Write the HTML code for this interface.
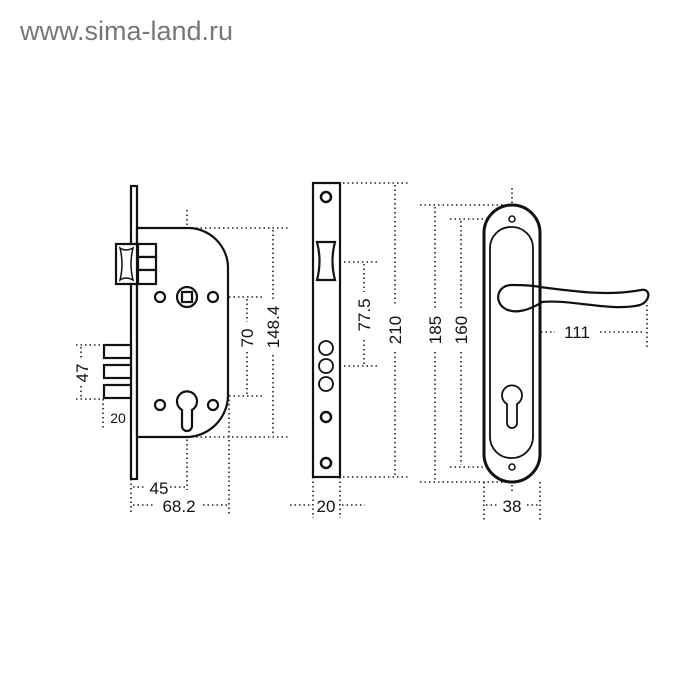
<!DOCTYPE html>
<html><head><meta charset="utf-8"><style>
html,body{margin:0;padding:0;background:#fff;}
svg{display:block;}
.d{stroke:#222;stroke-width:1.6;stroke-dasharray:1.5 3;fill:none;}
.s{stroke:#111;stroke-width:2.2;fill:#fff;}
.t{font-family:"Liberation Sans",sans-serif;font-size:17px;fill:#111;}
</style></head><body>
<svg width="700" height="700" viewBox="0 0 700 700" xmlns="http://www.w3.org/2000/svg">
<rect width="700" height="700" fill="#fff"/>
<text x="20" y="40" font-family="Liberation Sans, sans-serif" font-size="27" fill="#777">www.sima-land.ru</text>

<!-- LOCK BODY -->
<g>
<line class="d" x1="187" y1="210" x2="187" y2="490"/>
<line class="d" x1="229" y1="395" x2="229" y2="515"/>
<line class="d" x1="187" y1="228" x2="290" y2="228"/>
<line class="d" x1="187" y1="437" x2="290" y2="437"/>
<line class="d" x1="148" y1="297" x2="262" y2="297"/>
<line class="d" x1="148" y1="396" x2="262" y2="396"/>
<line class="d" x1="273" y1="230" x2="273" y2="300"/>
<line class="d" x1="273" y1="355" x2="273" y2="435"/>
<line class="d" x1="247" y1="299" x2="247" y2="322"/>
<line class="d" x1="247" y1="352" x2="247" y2="394"/>
<line class="d" x1="76" y1="345" x2="103" y2="345"/>
<line class="d" x1="76" y1="399" x2="103" y2="399"/>
<line class="d" x1="81" y1="347" x2="81" y2="360"/>
<line class="d" x1="81" y1="386" x2="81" y2="397"/>
<line class="d" x1="103" y1="399" x2="103" y2="430"/>
<line class="d" x1="131" y1="479" x2="131" y2="515"/>
<line class="d" x1="133" y1="487" x2="146" y2="487"/>
<line class="d" x1="170" y1="487" x2="185" y2="487"/>
<line class="d" x1="133" y1="505" x2="155" y2="505"/>
<line class="d" x1="203" y1="505" x2="227" y2="505"/>
<rect class="s" x="131" y="186" width="6" height="293"/>
<path class="s" d="M137,228 H188 A40,40 0 0 1 228,268 V395 A42,42 0 0 1 186,437 H137 Z"/>
<rect class="s" x="116" y="244" width="21" height="40"/>
<path d="M120,248 Q126,252 133,248 Q129,264 133,280 Q126,276 120,280 Q124,264 120,248Z" fill="none" stroke="#111" stroke-width="1.5"/>
<rect class="s" x="138" y="244" width="18" height="13"/>
<rect class="s" x="138" y="257" width="18" height="13"/>
<rect class="s" x="138" y="270" width="18" height="14"/>
<rect class="s" x="104" y="345" width="27" height="13"/>
<rect class="s" x="104" y="365" width="27" height="13"/>
<rect class="s" x="104" y="385" width="27" height="13"/>
<circle class="s" cx="187" cy="297" r="10"/>
<rect class="s" x="182" y="292" width="10" height="10" stroke-width="1.6"/>
<circle class="s" cx="160" cy="297" r="5" stroke-width="1.6"/>
<circle class="s" cx="213" cy="297" r="5" stroke-width="1.6"/>
<circle class="s" cx="160" cy="405" r="5" stroke-width="1.6"/>
<circle class="s" cx="213" cy="405" r="5" stroke-width="1.6"/>
<path class="s" d="M182,410 A10,10 0 1 1 192,410 V426 A5,5 0 0 1 182,426 Z"/>
<text class="t" transform="translate(279,327) rotate(-90)" text-anchor="middle">148.4</text>
<text class="t" transform="translate(253,338) rotate(-90)" text-anchor="middle">70</text>
<text class="t" transform="translate(88,373) rotate(-90)" text-anchor="middle">47</text>
<text x="118" y="423" font-family="Liberation Sans, sans-serif" font-size="14" fill="#111" text-anchor="middle">20</text>
<text class="t" x="159" y="494" text-anchor="middle">45</text>
<text class="t" x="179" y="512" text-anchor="middle">68.2</text>
</g>

<!-- STRIKE PLATE -->
<g>
<line class="d" x1="343" y1="183" x2="408" y2="183"/>
<line class="d" x1="343" y1="477" x2="408" y2="477"/>
<line class="d" x1="395" y1="185" x2="395" y2="305"/>
<line class="d" x1="395" y1="352" x2="395" y2="475"/>
<line class="d" x1="326" y1="262" x2="378" y2="262"/>
<line class="d" x1="326" y1="366" x2="378" y2="366"/>
<line class="d" x1="364" y1="264" x2="364" y2="292"/>
<line class="d" x1="364" y1="340" x2="364" y2="364"/>
<line class="d" x1="313" y1="477" x2="313" y2="518"/>
<line class="d" x1="340" y1="477" x2="340" y2="518"/>
<line class="d" x1="290" y1="505" x2="311" y2="505"/>
<line class="d" x1="342" y1="505" x2="365" y2="505"/>
<rect class="s" x="313" y="183" width="27" height="294"/>
<path class="s" d="M317,242 H335 Q330,261 335,280 H317 Q322,261 317,242Z" stroke-width="1.8"/>
<circle cx="326" cy="197" r="5" fill="none" stroke="#111" stroke-width="2.5"/>
<circle cx="326" cy="417" r="5" fill="none" stroke="#111" stroke-width="2.5"/>
<circle cx="326" cy="463" r="5" fill="none" stroke="#111" stroke-width="2.5"/>
<circle cx="326" cy="348" r="7" fill="none" stroke="#111" stroke-width="1.8"/>
<circle cx="326" cy="366" r="7" fill="none" stroke="#111" stroke-width="1.8"/>
<circle cx="326" cy="384" r="7" fill="none" stroke="#111" stroke-width="1.8"/>
<text class="t" transform="translate(401,330) rotate(-90)" text-anchor="middle">210</text>
<text class="t" transform="translate(370,315) rotate(-90)" text-anchor="middle">77.5</text>
<text class="t" x="326" y="512" text-anchor="middle">20</text>
</g>

<!-- HANDLE -->
<g>
<line class="d" x1="512" y1="188" x2="512" y2="492"/>
<line class="d" x1="420" y1="205" x2="512" y2="205"/>
<line class="d" x1="420" y1="482" x2="512" y2="482"/>
<line class="d" x1="450" y1="219" x2="540" y2="219"/>
<line class="d" x1="450" y1="467" x2="540" y2="467"/>
<line class="d" x1="435" y1="207" x2="435" y2="310"/>
<line class="d" x1="435" y1="352" x2="435" y2="480"/>
<line class="d" x1="461" y1="221" x2="461" y2="310"/>
<line class="d" x1="461" y1="352" x2="461" y2="465"/>
<line class="d" x1="484" y1="482" x2="484" y2="520"/>
<line class="d" x1="540" y1="482" x2="540" y2="520"/>
<line class="d" x1="486" y1="505" x2="498" y2="505"/>
<line class="d" x1="527" y1="505" x2="538" y2="505"/>
<line class="d" x1="514" y1="332" x2="555" y2="332"/>
<line class="d" x1="600" y1="332" x2="645" y2="332"/>
<line class="d" x1="647" y1="305" x2="647" y2="348"/>
<rect x="484" y="205" width="56" height="277" rx="28" fill="#fff" stroke="#111" stroke-width="3"/>
<rect x="490" y="227" width="43" height="231" rx="21" fill="none" stroke="#111" stroke-width="1.8"/>
<circle cx="512" cy="219" r="3" fill="none" stroke="#111" stroke-width="1.5"/>
<circle cx="512" cy="467" r="3" fill="none" stroke="#111" stroke-width="1.5"/>
<path d="M507,404 A10,10 0 1 1 517,404 V423 A5,5 0 0 1 507,423 Z" fill="none" stroke="#111" stroke-width="1.8"/>
<path d="M512,285 C497,285 494,301 504,308 C514,315 530,310 542,302 C570,299 612,312 640,305 C651,301 651,288 641,290 C610,296 578,292 540,287 C530,285 520,285 512,285 Z" fill="none" stroke="#111" stroke-width="2.2"/>
<text class="t" transform="translate(441,330) rotate(-90)" text-anchor="middle">185</text>
<text class="t" transform="translate(467,330) rotate(-90)" text-anchor="middle">160</text>
<text class="t" x="577" y="338" text-anchor="middle">111</text>
<text class="t" x="512" y="512" text-anchor="middle">38</text>
</g>
</svg>
</body></html>
